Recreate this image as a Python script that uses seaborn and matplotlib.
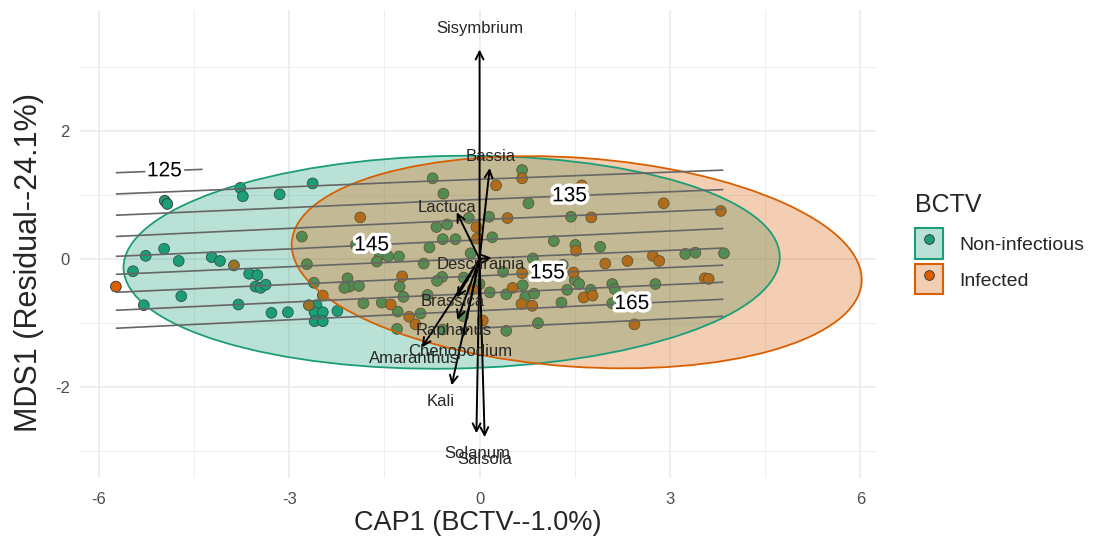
"""CAP ordination of weed communities by BCTV status, with a fitted surface."""

import matplotlib

matplotlib.use("Agg")
import matplotlib.pyplot as plt
import matplotlib.patheffects as pe
import pandas as pd
import seaborn as sns
from matplotlib.legend_handler import HandlerTuple
from matplotlib.lines import Line2D
from matplotlib.patches import Ellipse, Patch

GREEN = "#1B9E77"
ORANGE = "#D95F02"

# site scores, Non-infectious
non_inf_x = [-4.96, -4.92, -3.77, -3.73, -3.15, -2.63, -2.80, -4.97, -5.26, -4.74,
             -4.22, -4.09, -5.46, -3.63, -3.50, -3.53, -3.45, -3.37, -4.70, -5.29,
             -3.80, -3.28, -3.02, -2.72, -2.61, -2.57, -2.60, -2.47, -2.60, -2.47,
             -2.24, -2.08, -2.05, -1.95, -1.57, -1.44, -1.27, -1.62, -1.90, -2.13,
             -1.26, -1.20, -1.83, -1.54, -1.29, -1.30, -0.74, -0.57, 0.15, -0.17,
             -0.68, -0.51, -0.58, -0.38, 0.20, -0.79, -0.14, -0.88, -0.59, -0.67,
             -0.25, 0.00, 0.42, 0.16, -0.82, -0.26, -0.93, 0.42, -0.58, 0.67,
             0.77, 1.44, 1.17, 1.51, 0.84, 0.37, 0.68, 0.72, 0.86, 1.29,
             1.38, 1.50, 1.57, 1.31, 1.90, 1.75, 2.09, 2.13, 2.09, 0.92,
             3.24, 3.40, 3.85, 2.77]
non_inf_y = [0.91, 0.86, 1.11, 0.98, 1.01, 1.18, 0.35, 0.16, 0.05, -0.03,
             0.03, -0.03, -0.19, -0.23, -0.25, -0.43, -0.45, -0.40, -0.58, -0.72,
             -0.71, -0.84, -0.83, -0.08, -0.37, -0.72, -0.83, -0.83, -0.97, -0.97,
             -0.81, -0.30, -0.43, 0.22, 0.06, 0.04, 0.04, -0.04, -0.42, -0.45,
             -0.43, -0.59, -0.69, -0.68, -0.82, -1.09, 1.26, 1.02, 0.66, 0.64,
             0.50, 0.54, 0.31, 0.31, 0.34, 0.18, 0.09, -0.07, -0.28, -0.34,
             -0.29, -0.39, -0.55, -0.52, -0.56, -0.89, -0.85, -1.12, -1.10, 1.39,
             0.87, 0.66, 0.28, 0.22, 0.01, -0.20, -0.41, -0.59, -0.54, -0.68,
             -0.48, -0.33, -0.39, -0.09, 0.19, -0.48, -0.39, -0.47, -0.69, -1.00,
             0.08, 0.10, 0.09, -0.39]

# site scores, Infected
inf_x = [-5.73, -3.87, -2.47, -2.69, -1.88, -1.22, -1.40, -1.11, 0.26, 0.44,
         -0.05, -0.04, 0.52, -0.11, 0.05, -1.01, 0.67, 1.61, 1.76, 1.52,
         0.67, 0.66, 0.83, 1.48, 1.64, 1.78, 2.33, 1.98, 2.90, 3.80,
         2.73, 2.83, 3.55, 3.61, 2.44]
inf_y = [-0.43, -0.10, -0.57, -0.72, 0.65, -0.27, -0.71, -0.90, 1.15, 0.64,
         0.50, 0.32, -0.45, -0.47, -0.96, -1.02, 1.26, 1.15, 0.65, 0.13,
         -0.22, -0.70, -0.73, -0.21, -0.60, -0.57, -0.03, -0.07, 0.87, 0.75,
         0.05, -0.03, -0.30, -0.31, -1.02]

# species vectors
species = ["Sisymbrium", "Bassia", "Lactuca", "Descurainia", "Brassica",
           "Raphanus", "Chenopodium", "Amaranthus", "Kali", "Solanum", "Salsola"]
species_x = [0.00, 0.16, -0.36, 0.19, -0.36, -0.35, -0.27, -0.91, -0.44, -0.05, 0.08]
species_y = [3.27, 1.42, 0.73, 0.02, -0.60, -0.95, -1.23, -1.38, -1.97, -2.72, -2.78]
species_lab_x = [0.00, 0.17, -0.52, 0.02, -0.43, -0.41, -0.30, -1.04, -0.61, -0.03, 0.08]
species_lab_y = [3.60, 1.60, 0.80, -0.08, -0.66, -1.11, -1.44, -1.56, -2.22, -3.03, -3.13]

# fitted surface read on a coarse grid
surf_x = [-5.73, -0.95, 3.84]
surf_y = [-1.08, 0.16, 1.40]
surf_z = [[165.0, 169.2, 173.5],
          [142.9, 146.5, 150.2],
          [124.2, 127.0, 129.8]]
plain_levels = [130, 140, 150, 160, 170]
label_levels = [125, 135, 145, 155, 165]
label_pos = [(-4.96, 1.34), (1.42, 0.97), (-1.70, 0.22), (1.07, -0.22), (2.41, -0.75)]

# 95% ellipses
groups = ["Non-infectious", "Infected"]
ell_cx = [-0.44, 1.53]
ell_cy = [-0.05, -0.05]
ell_w = [10.34, 9.00]
ell_h = [3.32, 3.26]
ell_angle = [1.0, -4.0]
colors = [GREEN, ORANGE]

sns.set_theme(style="whitegrid")
plt.rcParams["font.family"] = ["Liberation Sans", "DejaVu Sans"]
plt.rcParams["axes.unicode_minus"] = False

df = pd.DataFrame({
    "CAP1": non_inf_x + inf_x,
    "MDS1": non_inf_y + inf_y,
    "BCTV": ["Non-infectious"] * len(non_inf_x) + ["Infected"] * len(inf_x),
})

fig, ax = plt.subplots(figsize=(11.07, 5.44), dpi=100)
fig.subplots_adjust(left=0.072, right=0.791, top=0.982, bottom=0.121)

sns.scatterplot(data=df, x="CAP1", y="MDS1", hue="BCTV",
                palette=dict(zip(groups, colors)), s=60, edgecolor="#333333",
                linewidth=0.6, legend=False, ax=ax, zorder=2)

for i in range(len(groups)):
    ax.add_patch(Ellipse((ell_cx[i], ell_cy[i]), ell_w[i], ell_h[i],
                         angle=ell_angle[i], facecolor=colors[i], alpha=0.3,
                         edgecolor="none", zorder=3))
    ax.add_patch(Ellipse((ell_cx[i], ell_cy[i]), ell_w[i], ell_h[i],
                         angle=ell_angle[i], facecolor="none",
                         edgecolor=colors[i], lw=1.3, zorder=3.1))

ax.contour(surf_x, surf_y, surf_z, levels=plain_levels,
           colors="#666666", linewidths=1.2, zorder=4)
cs = ax.contour(surf_x, surf_y, surf_z, levels=label_levels,
                colors="#666666", linewidths=1.2, zorder=4)
labels = ax.clabel(cs, manual=label_pos, inline=True, inline_spacing=2,
                   fontsize=15, fmt="%d", colors="black")
for t in labels:
    t.set_rotation(0)
    t.set_zorder(5)
    t.set_path_effects([pe.withStroke(linewidth=5, foreground="white")])

for name, tx, ty, lx, ly in zip(species, species_x, species_y,
                                species_lab_x, species_lab_y):
    ax.annotate("", xy=(tx, ty), xytext=(0, 0),
                arrowprops=dict(arrowstyle="->", lw=1.4, color="black",
                                mutation_scale=14, shrinkA=0, shrinkB=0),
                zorder=6)
    ax.text(lx, ly, name, ha="center", va="center", fontsize=12, zorder=7)

ax.set_xlim(-6.30, 6.24)
ax.set_ylim(-3.42, 3.89)
ax.set_xticks([-6, -3, 0, 3, 6])
ax.set_yticks([-2, 0, 2])
ax.set_xticks([-4.5, -1.5, 1.5, 4.5], minor=True)
ax.set_yticks([-3, -1, 1, 3], minor=True)
ax.grid(which="major", color="#ebebeb", lw=1.2)
ax.grid(which="minor", color="#ebebeb", lw=0.6)
ax.set_axisbelow(True)
for side in ax.spines.values():
    side.set_visible(False)
ax.tick_params(which="both", length=0, labelsize=12, labelcolor="#4d4d4d")
ax.tick_params(axis="x", pad=10)
ax.tick_params(axis="y", pad=7)
ax.set_xlabel("CAP1 (BCTV--1.0%)", fontsize=19.5, labelpad=2)
ax.set_ylabel("MDS1 (Residual--24.1%)", fontsize=22)
ax.yaxis.set_label_coords(-0.045, 0.4615)

handles = [
    (Patch(facecolor=(*matplotlib.colors.to_rgb(c), 0.3), edgecolor=c, lw=1.5),
     Line2D([], [], marker="o", ls="", markerfacecolor=c,
            markeredgecolor="#333333", markersize=7, markeredgewidth=0.6))
    for c in colors
]
leg = ax.legend(handles, groups, title="BCTV", loc="upper left",
                bbox_to_anchor=(0.811, 0.678), bbox_transform=fig.transFigure,
                frameon=False, fontsize=14, title_fontsize=18,
                handlelength=1.45, handleheight=2.0, handletextpad=0.8,
                labelspacing=0.3, alignment="left",
                handler_map={tuple: HandlerTuple(ndivide=1, pad=0)})
leg._legend_box.sep = 8.5  # extra room under the title

fig.savefig("out.png", dpi=100)
